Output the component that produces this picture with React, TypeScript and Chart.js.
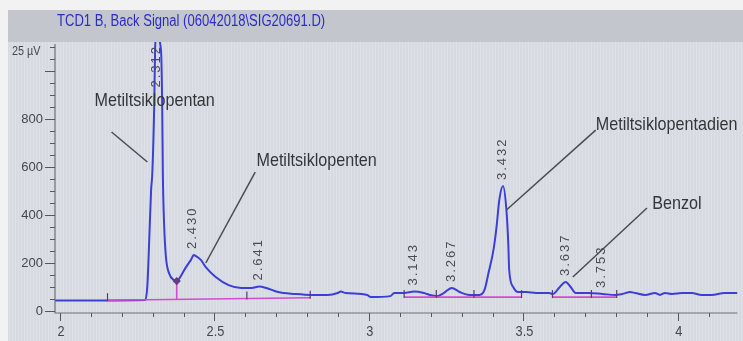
import React, { useEffect, useRef } from "react";
import { Chart, registerables } from "chart.js";

Chart.register(...registerables);

const TITLE = "TCD1 B, Back Signal (06042018\\SIG20691.D)";
const Y_UNIT = "25 µV";

// Detector signal (retention time in min, response)
const signalTimes = [
  1.984, 2.128, 2.276, 2.283, 2.289, 2.295, 2.299, 2.305, 2.308, 2.312,
  2.327, 2.331, 2.333, 2.337, 2.343, 2.353, 2.369, 2.379, 2.385, 2.408,
  2.424, 2.433, 2.440, 2.456, 2.472, 2.504, 2.546, 2.587, 2.620, 2.645,
  2.668, 2.706, 2.761, 2.812, 2.867, 2.899, 2.909, 2.925, 2.995, 3.005,
  3.069, 3.082, 3.114, 3.146, 3.178, 3.197, 3.220, 3.242, 3.268, 3.294,
  3.326, 3.358, 3.374, 3.387, 3.403, 3.413, 3.422, 3.434, 3.445, 3.451,
  3.454, 3.467, 3.483, 3.509, 3.541, 3.583, 3.596, 3.615, 3.637, 3.653,
  3.669, 3.711, 3.756, 3.798, 3.820, 3.846, 3.862, 3.894, 3.926, 3.942,
  3.958, 3.981, 4.013, 4.045, 4.077, 4.109, 4.151, 4.193,
];
const signalValues = [
  44, 44, 46, 108, 296, 504, 575, 850, 1088, 1150,
  1088, 850, 575, 367, 225, 158, 129, 125, 133, 183,
  213, 233, 229, 213, 183, 142, 108, 96, 96, 102,
  96, 79, 71, 67, 67, 75, 81, 75, 67, 58,
  62, 75, 75, 81, 75, 67, 62, 75, 96, 79,
  67, 67, 88, 158, 254, 350, 463, 521, 421, 283,
  171, 100, 79, 79, 75, 75, 71, 96, 121, 100,
  75, 75, 71, 67, 71, 79, 75, 67, 75, 67,
  75, 71, 75, 75, 67, 67, 75, 75,
];

// Integrated peaks
const peakTimes = [2.312, 2.43, 2.641, 3.143, 3.267, 3.432, 3.637, 3.753];
const peakHeights = [1150, 233, 102, 81, 96, 521, 121, 71];

// Integration baselines
const baselineStartTimes = [2.154, 3.114, 3.594];
const baselineStartValues = [45, 58, 58];
const baselineEndTimes = [2.81, 3.494, 3.802];
const baselineEndValues = [55, 58, 58];
const dropTimes = [2.378, 2.378];
const dropValues = [125, 48];
const splitTimes = [2.154, 2.605, 2.81, 3.114, 3.218, 3.34, 3.494, 3.594, 3.72, 3.802];
const splitValues = [45, 52, 55, 58, 58, 58, 58, 58, 58, 58];

// Compound annotations
const compoundNames = ["Metiltsiklopentan", "Metiltsiklopenten", "Metiltsiklopentadien", "Benzol"];
const compoundLabelTimes = [2.112, 2.636, 3.734, 3.917];
const compoundLabelValues = [875, 625, 775, 446];
const leaderFromTimes = [2.167, 2.632, 3.734, 3.9];
const leaderFromValues = [746, 579, 754, 429];
const leaderToTimes = [2.283, 2.472, 3.445, 3.66];
const leaderToValues = [621, 200, 421, 142];

// Axis ticks
const xTickValues = [2, 2.5, 3, 3.5, 4];
const xTickLabels = ["2", "2.5", "3", "3.5", "4"];
const yTickValues = [0, 200, 400, 600, 800];
const yTickLabels = ["0", "200", "400", "600", "800"];

const X_MIN = 1.984;
const X_MAX = 4.1926;
const Y_MIN = -8.3;
const Y_MAX = 1121;

const REGULAR = '"Liberation Sans", Arial, sans-serif';

function fillNarrow(ctx: CanvasRenderingContext2D, text: string, x: number, y: number, sx: number) {
  ctx.save();
  ctx.translate(x, y);
  ctx.scale(sx, 1);
  ctx.fillText(text, 0, 0);
  ctx.restore();
}

const chromPlugin = {
  id: "chrom",
  beforeDraw(chart: any) {
    const { ctx, width, height } = chart;
    ctx.save();
    ctx.fillStyle = "#f2f2f2";
    ctx.fillRect(0, 0, width, height);
    ctx.fillStyle = "#d6dbe2";
    ctx.fillRect(8, 10, width - 8, height - 10);
    ctx.fillStyle = "#dde1e7";
    for (let x = 9; x < width; x += 3) {
      ctx.fillRect(x, 42, 1, height - 42);
    }
    ctx.fillStyle = "#c3c7cd";
    ctx.fillRect(8, 10, width - 8, 32);
    ctx.fillStyle = "#2c2cc4";
    ctx.font = "16px " + REGULAR;
    ctx.textAlign = "left";
    ctx.textBaseline = "middle";
    fillNarrow(ctx, TITLE, 57, 22, 0.815);
    ctx.restore();
  },
  afterDatasetsDraw(chart: any) {
    const { ctx, chartArea } = chart;
    const xs = chart.scales.x;
    const ys = chart.scales.y;
    const { left, top, right, bottom } = chartArea;
    ctx.save();

    // integration split ticks
    ctx.strokeStyle = "#5a3a6a";
    ctx.lineWidth = 1.2;
    splitTimes.forEach((t, i) => {
      const px = xs.getPixelForValue(t);
      const py = ys.getPixelForValue(splitValues[i]);
      ctx.beginPath();
      ctx.moveTo(px, py + 1);
      ctx.lineTo(px, py - 7);
      ctx.stroke();
    });

    // axes
    ctx.strokeStyle = "#6e7178";
    ctx.lineWidth = 1.2;
    ctx.beginPath();
    ctx.moveTo(left, top + 2);
    ctx.lineTo(left, bottom);
    ctx.lineTo(right, bottom);
    ctx.stroke();

    // y ticks
    ctx.strokeStyle = "#55585e";
    ctx.lineWidth = 1;
    for (let v = 0; v <= 1100; v += 50) {
      const py = Math.round(ys.getPixelForValue(v)) + 0.5;
      const major = v % 200 === 0;
      ctx.beginPath();
      ctx.moveTo(left - (major ? 10 : 5), py);
      ctx.lineTo(left, py);
      ctx.stroke();
    }
    ctx.fillStyle = "#45474c";
    ctx.font = "13px " + REGULAR;
    ctx.textAlign = "right";
    ctx.textBaseline = "middle";
    yTickValues.forEach((v, i) => {
      ctx.fillText(yTickLabels[i], left - 12, ys.getPixelForValue(v));
    });
    ctx.font = "12px " + REGULAR;
    ctx.textAlign = "left";
    fillNarrow(ctx, Y_UNIT, 12, 52, 0.9);

    // x ticks
    for (let k = 0; k <= 21; k++) {
      const v = 2 + k * 0.1;
      const px = Math.round(xs.getPixelForValue(v)) + 0.5;
      const major = k % 5 === 0;
      ctx.beginPath();
      ctx.moveTo(px, bottom);
      ctx.lineTo(px, bottom + (major ? 8 : 4));
      ctx.stroke();
    }
    ctx.font = "15px " + REGULAR;
    ctx.textAlign = "center";
    ctx.textBaseline = "middle";
    xTickValues.forEach((v, i) => {
      fillNarrow(ctx, xTickLabels[i], xs.getPixelForValue(v) + 1, bottom + 19, 0.85);
    });

    // retention time labels
    ctx.fillStyle = "#4a4c52";
    ctx.font = "13px " + REGULAR;
    (ctx as any).letterSpacing = "2px";
    peakTimes.forEach((t, i) => {
      const label = t.toFixed(3);
      const w = ctx.measureText(label).width;
      const px = xs.getPixelForValue(t);
      const py = ys.getPixelForValue(peakHeights[i]);
      let start = py - 6;
      if (start - w < top + 3) start = top + 3 + w;
      ctx.save();
      ctx.translate(px, start);
      ctx.rotate(-Math.PI / 2);
      ctx.textAlign = "left";
      ctx.textBaseline = "middle";
      ctx.fillText(label, 0, 0);
      ctx.restore();
    });
    (ctx as any).letterSpacing = "0px";

    // compound labels and leader lines
    ctx.strokeStyle = "#4a4c50";
    ctx.lineWidth = 1.5;
    ctx.fillStyle = "#34363a";
    ctx.font = "19px " + REGULAR;
    ctx.textAlign = "left";
    ctx.textBaseline = "middle";
    compoundNames.forEach((name, i) => {
      ctx.beginPath();
      ctx.moveTo(xs.getPixelForValue(leaderFromTimes[i]), ys.getPixelForValue(leaderFromValues[i]));
      ctx.lineTo(xs.getPixelForValue(leaderToTimes[i]), ys.getPixelForValue(leaderToValues[i]));
      ctx.stroke();
      fillNarrow(ctx, name, xs.getPixelForValue(compoundLabelTimes[i]), ys.getPixelForValue(compoundLabelValues[i]), 0.85);
    });
    ctx.restore();
  },
};

export default function App() {
  const canvasRef = useRef<HTMLCanvasElement | null>(null);

  useEffect(() => {
    const canvas = canvasRef.current;
    if (!canvas) return;
    const magenta = "#d24ccf";
    const datasets: any[] = [];
    baselineStartTimes.forEach((t, i) => {
      datasets.push({
        data: [
          { x: t, y: baselineStartValues[i] },
          { x: baselineEndTimes[i], y: baselineEndValues[i] },
        ],
        borderColor: magenta,
        borderWidth: 1.6,
        pointRadius: 0,
        tension: 0,
        order: 1,
      });
    });
    datasets.push({
      data: dropTimes.map((t, i) => ({ x: t, y: dropValues[i] })),
      borderColor: magenta,
      borderWidth: 1.6,
      pointRadius: [3, 0],
      pointStyle: "rectRot",
      pointBackgroundColor: "#6a3a80",
      pointBorderColor: "#6a3a80",
      tension: 0,
      order: 1,
    });
    datasets.push({
      data: signalTimes.map((t, i) => ({ x: t, y: signalValues[i] })),
      borderColor: "#3d3dd8",
      borderWidth: 2,
      pointRadius: 0,
      cubicInterpolationMode: "monotone",
      order: 2,
    });

    const chart = new Chart(canvas, {
      type: "line",
      data: { datasets },
      options: {
        responsive: false,
        animation: false,
        devicePixelRatio: 1,
        layout: { padding: { left: 0, top: 42, right: 0, bottom: 0 } },
        plugins: { legend: { display: false }, tooltip: { enabled: false }, title: { display: false } },
        scales: {
          x: {
            type: "linear",
            min: X_MIN,
            max: X_MAX,
            grid: { display: false },
            border: { display: false },
            ticks: { display: false },
            afterFit: (s: any) => {
              s.height = 28;
            },
          },
          y: {
            type: "linear",
            min: Y_MIN,
            max: Y_MAX,
            grid: { display: false },
            border: { display: false },
            ticks: { display: false },
            afterFit: (s: any) => {
              s.width = 55;
            },
          },
        },
      },
      plugins: [chromPlugin],
    });
    return () => chart.destroy();
  }, []);

  return (
    <div style={{ position: "absolute", left: 0, top: 0, width: 743, height: 341 }}>
      <canvas ref={canvasRef} width={743} height={341} style={{ display: "block" }} />
    </div>
  );
}
